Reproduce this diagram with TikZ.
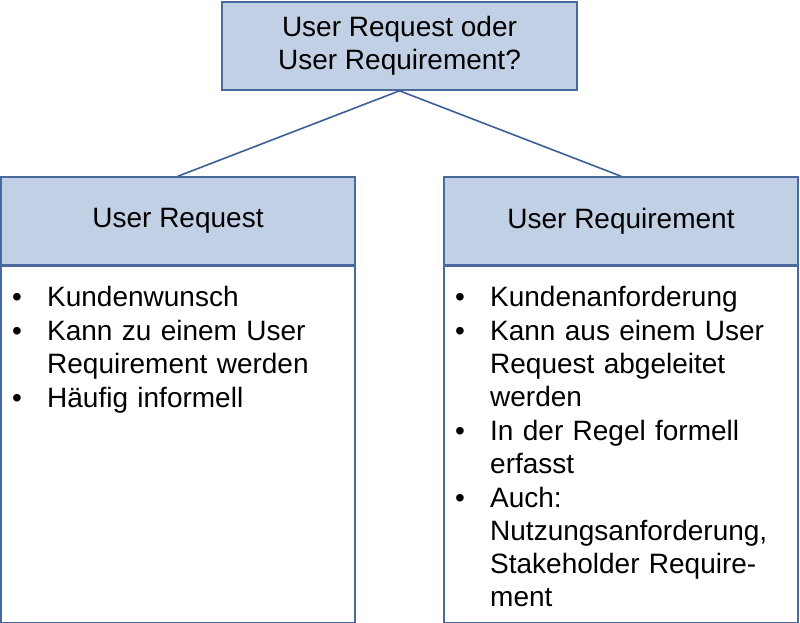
\documentclass[tikz,border=0pt]{standalone}
\usepackage{fontspec}
\setmainfont{Liberation Sans}
\usetikzlibrary{positioning}
\definecolor{boxfill}{RGB}{193,208,228}
\definecolor{boxline}{RGB}{74,106,158}
\definecolor{linkline}{RGB}{60,95,150}
\newcommand{\listpt}[1]{\par\hangindent=35pt\hangafter=1\noindent\makebox[35pt][l]{\textbullet}#1}

\begin{document}
\begin{tikzpicture}[x=1pt, y=-1pt]
\tikzset{every node/.style={font=\fontsize{28}{33}\selectfont},
         headbox/.style={draw=boxline, fill=boxfill, line width=1.6pt,
                         minimum width=354pt, minimum height=88pt,
                         inner sep=0pt, align=center},
         bodybox/.style={draw=boxline, fill=white, line width=1.6pt,
                         minimum width=354pt, minimum height=356pt, inner sep=0pt},
         listtext/.style={anchor=north west, inner sep=0pt, text width=335pt}}
\useasboundingbox (0,0) rectangle (800,623);
\node[headbox, minimum width=355pt] (Q) at (399.5,46) {User Request oder\\User Requirement?};
\node[headbox] (RQ) at (178,221) {User Request};
\node[headbox] (RM) at (621,221) {User Requirement};
\node[bodybox, below=0pt of RQ] (RQbody) {};
\node[bodybox, below=0pt of RM] (RMbody) {};
\node[listtext] (RQlist) at (12,272) {\setlength{\parskip}{1pt}\rightskip=0pt plus 1fil%
  \listpt{Kundenwunsch}
  \listpt{Kann zu einem User\newline Requirement werden}
  \listpt{H\"aufig informell}\par};
\node[listtext] (RMlist) at (455,272) {\setlength{\parskip}{1pt}\rightskip=0pt plus 1fil%
  \listpt{Kundenanforderung}
  \listpt{Kann aus einem User\newline Request abgeleitet\newline werden}
  \listpt{In der Regel formell\newline erfasst}
  \listpt{Auch:\newline Nutzungsanforderung,\newline Stakeholder Require-\newline ment}\par};
\draw[linkline, line width=1.6pt] (RQ.north) -- (Q.south) -- (RM.north);
\end{tikzpicture}
\end{document}
